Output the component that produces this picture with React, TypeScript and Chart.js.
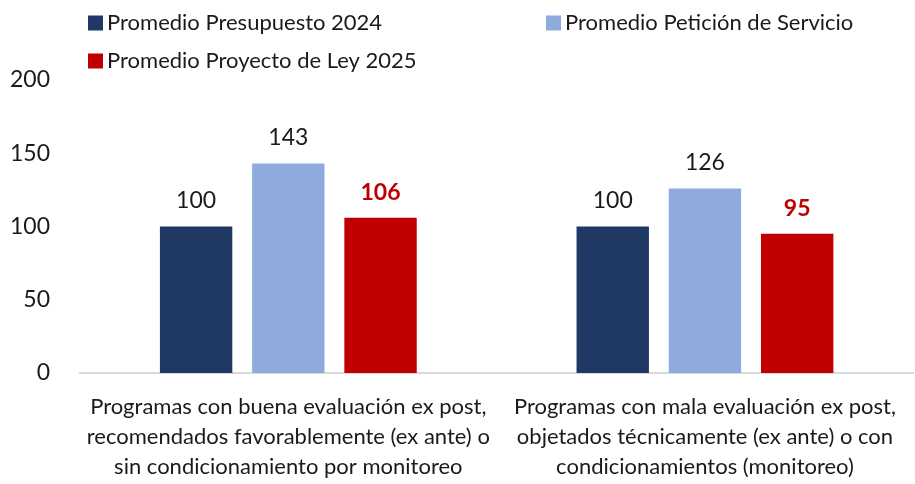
import React, { useEffect, useRef } from "react";
import { Chart, registerables } from "chart.js";

Chart.register(...registerables);

const categories: string[][] = [
  ["Programas con buena evaluación ex post,", "recomendados favorablemente (ex ante) o", "sin condicionamiento por monitoreo"],
  ["Programas con mala evaluación ex post,", "objetados técnicamente (ex ante) o con", "condicionamientos (monitoreo)"],
];
const seriesNames = ["Promedio Presupuesto 2024", "Promedio Petición de Servicio", "Promedio Proyecto de Ley 2025"];
const presupuesto2024 = [100, 100];
const peticionServicio = [143, 126];
const proyectoLey2025 = [106, 95];
const yTicks = [0, 50, 100, 150, 200];

const COLORS = ["#203864", "#8FAADC", "#C00000"];
const LABEL_COLORS = ["#1a1a1a", "#1a1a1a", "#C00000"];
const FONT = "Lato, 'Noto Sans', sans-serif";

const legendPlugin = {
  id: "customLegend",
  afterDraw(chart: any) {
    const ctx = chart.ctx;
    const pos = [
      { x: 88, y: 23 },
      { x: 546, y: 23 },
      { x: 88, y: 61 },
    ];
    ctx.save();
    chart.data.datasets.forEach((ds: any, i: number) => {
      const p = pos[i];
      ctx.fillStyle = ds.backgroundColor;
      ctx.fillRect(p.x, p.y - 7.5, 15, 15);
      ctx.fillStyle = "#1a1a1a";
      ctx.font = `22px ${FONT}`;
      ctx.textBaseline = "middle";
      ctx.textAlign = "left";
      ctx.fillText(ds.label, p.x + 19, p.y);
    });
    ctx.restore();
  },
};

const valueLabelPlugin = {
  id: "valueLabels",
  afterDatasetsDraw(chart: any) {
    const ctx = chart.ctx;
    ctx.save();
    chart.data.datasets.forEach((ds: any, i: number) => {
      const meta = chart.getDatasetMeta(i);
      meta.data.forEach((bar: any, j: number) => {
        const v = ds.data[j];
        ctx.font = i === 2 ? `bold 23px ${FONT}` : `23px ${FONT}`;
        ctx.fillStyle = LABEL_COLORS[i];
        ctx.textAlign = "center";
        ctx.textBaseline = "bottom";
        ctx.fillText(String(v), bar.x, bar.y - 14);
      });
    });
    ctx.restore();
  },
};

export default function App() {
  const ref = useRef<HTMLCanvasElement | null>(null);
  useEffect(() => {
    if (!ref.current) return;
    const chart = new Chart(ref.current, {
      type: "bar",
      data: {
        labels: categories as any,
        datasets: [presupuesto2024, peticionServicio, proyectoLey2025].map((d, i) => ({
          label: seriesNames[i],
          data: d,
          backgroundColor: COLORS[i],
          categoryPercentage: 0.664,
          barPercentage: 0.785,
        })),
      },
      options: {
        animation: false,
        responsive: false,
        maintainAspectRatio: false,
        layout: { padding: { top: 80, left: 0, right: -5, bottom: 0 } },
        plugins: { legend: { display: false }, tooltip: { enabled: false } },
        scales: {
          x: {
            afterFit(scale: any) {
              scale.height = 111;
            },
            grid: { display: false, drawTicks: false },
            border: { display: true, color: "#d9d9d9", width: 2 },
            ticks: {
              padding: 19,
              color: "#1a1a1a",
              font: { family: FONT, size: 22, lineHeight: 30 / 22 },
              maxRotation: 0,
              autoSkip: false,
            },
          },
          y: {
            min: 0,
            max: 200,
            afterFit(scale: any) {
              scale.width = 80;
            },
            afterBuildTicks(scale: any) {
              scale.ticks = yTicks.map((v) => ({ value: v }));
            },
            grid: { display: false, drawTicks: false },
            border: { display: false },
            ticks: {
              padding: 30,
              color: "#1a1a1a",
              font: { family: FONT, size: 23 },
            },
          },
        },
      },
      plugins: [legendPlugin, valueLabelPlugin],
    });
    return () => chart.destroy();
  }, []);
  return (
    <div style={{ position: "absolute", left: 0, top: 0, width: 915, height: 484, background: "#fff" }}>
      <canvas ref={ref} width={915} height={484} style={{ width: 915, height: 484 }} />
    </div>
  );
}
